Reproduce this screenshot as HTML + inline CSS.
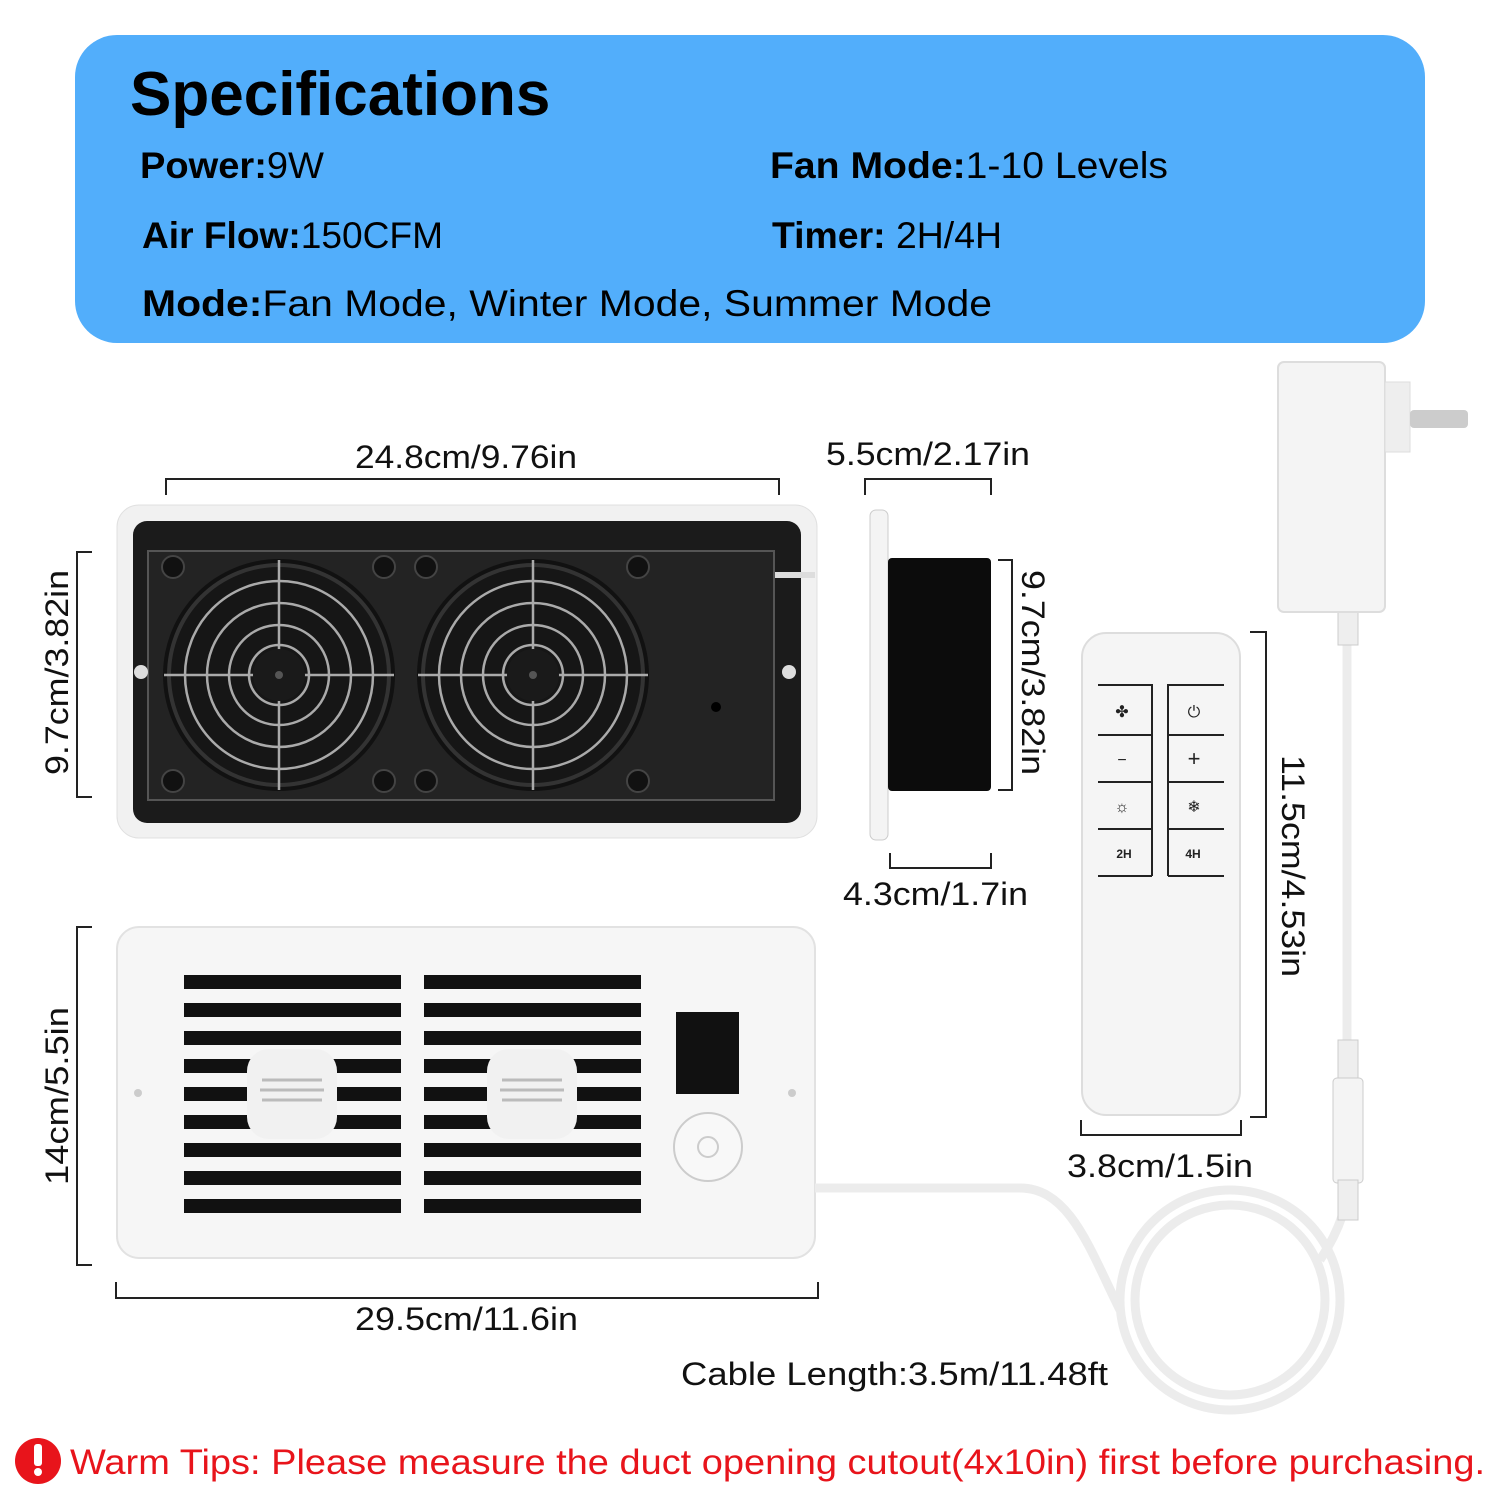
<!DOCTYPE html>
<html><head><meta charset="utf-8"><style>
html,body{margin:0;padding:0;background:#fff;}
svg{display:block;}
text{font-family:"Liberation Sans",sans-serif;}
</style></head><body>
<svg width="1500" height="1500" viewBox="0 0 1500 1500" xmlns="http://www.w3.org/2000/svg">
<rect x="75" y="35" width="1350" height="308" rx="42" fill="#52aefb"/>
<text x="130" y="115" font-size="62" font-weight="bold" fill="#000">Specifications</text>
<g font-size="37" fill="#000">
<text x="140" y="178" textLength="184" lengthAdjust="spacingAndGlyphs"><tspan font-weight="bold">Power:</tspan>9W</text>
<text x="770" y="178" textLength="398" lengthAdjust="spacingAndGlyphs"><tspan font-weight="bold">Fan Mode:</tspan>1-10 Levels</text>
<text x="142" y="248" textLength="301" lengthAdjust="spacingAndGlyphs"><tspan font-weight="bold">Air Flow:</tspan>150CFM</text>
<text x="772" y="248" textLength="230" lengthAdjust="spacingAndGlyphs"><tspan font-weight="bold">Timer:</tspan> 2H/4H</text>
<text x="142" y="316" textLength="850" lengthAdjust="spacingAndGlyphs"><tspan font-weight="bold">Mode:</tspan>Fan Mode, Winter Mode, Summer Mode</text>
</g>

<g stroke="#222" stroke-width="2" fill="none">
<path d="M166 495 V479 H779 V495"/>
<path d="M92 552 H77 V797 H92"/>
<path d="M865 495 V479 H991 V495"/>
<path d="M998 560 H1012 V790 H998"/>
<path d="M890 853 V868 H991 V853"/>
<path d="M1250 632 H1266 V1117 H1250"/>
<path d="M1081 1120 V1135 H1241 V1120"/>
<path d="M92 927 H77 V1265 H92"/>
<path d="M116 1282 V1298 H818 V1282"/>
</g>
<g font-size="32" fill="#111" lengthAdjust="spacingAndGlyphs">
<text x="355" y="468" textLength="222" lengthAdjust="spacingAndGlyphs">24.8cm/9.76in</text>
<text x="826" y="465" textLength="204" lengthAdjust="spacingAndGlyphs">5.5cm/2.17in</text>
<text x="843" y="905" textLength="185" lengthAdjust="spacingAndGlyphs">4.3cm/1.7in</text>
<text x="1067" y="1177" textLength="186" lengthAdjust="spacingAndGlyphs">3.8cm/1.5in</text>
<text x="355" y="1330" textLength="223" lengthAdjust="spacingAndGlyphs">29.5cm/11.6in</text>
<text x="681" y="1385" textLength="427" lengthAdjust="spacingAndGlyphs">Cable Length:3.5m/11.48ft</text>
<text transform="translate(68,775) rotate(-90)" textLength="205" lengthAdjust="spacingAndGlyphs">9.7cm/3.82in</text>
<text transform="translate(68,1185) rotate(-90)" textLength="178" lengthAdjust="spacingAndGlyphs">14cm/5.5in</text>
<text transform="translate(1022,570) rotate(90)" textLength="205" lengthAdjust="spacingAndGlyphs">9.7cm/3.82in</text>
<text transform="translate(1282,755) rotate(90)" textLength="222" lengthAdjust="spacingAndGlyphs">11.5cm/4.53in</text>
</g>

<rect x="117" y="505" width="700" height="333" rx="22" fill="#f1f1f1" stroke="#e0e0e0"/>
<rect x="133" y="521" width="668" height="302" rx="14" fill="#1b1b1b"/>
<rect x="148" y="551" width="626" height="249" fill="#232323" stroke="#555" stroke-width="2"/>
<path d="M775 575 H815" stroke="#ddd" stroke-width="6"/>
<circle cx="141" cy="672" r="7" fill="#ddd"/><circle cx="789" cy="672" r="7" fill="#ddd"/>
<circle cx="716" cy="707" r="5" fill="#000"/>
<g fill="#111" stroke="#444" stroke-width="2">
<circle cx="173" cy="567" r="11"/><circle cx="384" cy="567" r="11"/><circle cx="426" cy="567" r="11"/><circle cx="638" cy="567" r="11"/>
<circle cx="173" cy="781" r="11"/><circle cx="384" cy="781" r="11"/><circle cx="426" cy="781" r="11"/><circle cx="638" cy="781" r="11"/>
</g>
<g id="fan">
<circle cx="279" cy="675" r="116" fill="#111"/>
<circle cx="279" cy="675" r="110" fill="#161616" stroke="#333" stroke-width="4"/>
<g fill="none" stroke="#aaa" stroke-width="2.5">
<circle cx="279" cy="675" r="94"/><circle cx="279" cy="675" r="72"/><circle cx="279" cy="675" r="50"/><circle cx="279" cy="675" r="30"/>
<path d="M279 560 V790 M164 675 H394"/>
</g>
<circle cx="279" cy="675" r="26" fill="#1a1a1a"/>
<circle cx="279" cy="675" r="4" fill="#555"/>
</g>
<use href="#fan" x="254"/>

<rect x="870" y="510" width="18" height="330" rx="6" fill="#f4f4f4" stroke="#ccc"/>
<rect x="888" y="558" width="103" height="233" rx="4" fill="#0c0c0c"/>

<rect x="117" y="927" width="698" height="331" rx="22" fill="#f6f6f6" stroke="#e2e2e2" stroke-width="2"/>
<g fill="#111">
<rect x="184" y="975" width="217" height="14"/><rect x="184" y="1003" width="217" height="14"/><rect x="184" y="1031" width="217" height="14"/><rect x="184" y="1059" width="217" height="14"/><rect x="184" y="1087" width="217" height="14"/><rect x="184" y="1115" width="217" height="14"/><rect x="184" y="1143" width="217" height="14"/><rect x="184" y="1171" width="217" height="14"/><rect x="184" y="1199" width="217" height="14"/>
<rect x="424" y="975" width="217" height="14"/><rect x="424" y="1003" width="217" height="14"/><rect x="424" y="1031" width="217" height="14"/><rect x="424" y="1059" width="217" height="14"/><rect x="424" y="1087" width="217" height="14"/><rect x="424" y="1115" width="217" height="14"/><rect x="424" y="1143" width="217" height="14"/><rect x="424" y="1171" width="217" height="14"/><rect x="424" y="1199" width="217" height="14"/>
<rect x="676" y="1012" width="63" height="82"/>
</g>
<rect x="247" y="1049" width="90" height="90" rx="22" fill="#f1f1f1"/>
<rect x="487" y="1049" width="90" height="90" rx="22" fill="#f1f1f1"/>
<g stroke="#bbb" stroke-width="3"><path d="M262 1080 H322 M260 1090 H324 M262 1100 H322 M502 1080 H562 M500 1090 H564 M502 1100 H562"/></g>
<circle cx="708" cy="1147" r="34" fill="#f8f8f8" stroke="#ccc" stroke-width="2"/>
<circle cx="708" cy="1147" r="10" fill="none" stroke="#ccc" stroke-width="2"/>
<circle cx="138" cy="1093" r="4" fill="#ccc"/><circle cx="792" cy="1093" r="4" fill="#ccc"/>

<g fill="none" stroke="#ececec" stroke-width="9">
<path d="M815 1188 H1020 C1070 1188 1090 1250 1120 1310"/>
<circle cx="1230" cy="1300" r="95"/>
<circle cx="1230" cy="1300" r="110"/>
<path d="M1320 1260 C1340 1230 1350 1200 1350 1170"/>
<path d="M1347 1060 V640"/>
</g>
<rect x="1338" y="1040" width="20" height="40" fill="#eee" stroke="#ccc"/>
<rect x="1333" y="1078" width="30" height="105" rx="4" fill="#f4f4f4" stroke="#ccc"/>
<rect x="1338" y="1180" width="20" height="40" fill="#eee" stroke="#ccc"/>
<rect x="1338" y="610" width="20" height="35" fill="#eee" stroke="#ccc"/>

<rect x="1278" y="362" width="107" height="250" rx="6" fill="#f4f4f4" stroke="#ddd" stroke-width="2"/>
<rect x="1385" y="382" width="25" height="70" fill="#eee" stroke="#ddd"/>
<rect x="1410" y="410" width="58" height="18" rx="4" fill="#ccc"/>

<rect x="1082" y="633" width="158" height="482" rx="24" fill="#f5f5f5" stroke="#ddd" stroke-width="2"/>
<g stroke="#222" stroke-width="2" fill="none">
<path d="M1098 685 H1152 V735 M1098 735 H1152 V782 M1098 782 H1152 V829 M1098 829 H1152 V876 M1098 876 H1152"/>
<path d="M1168 735 V685 H1224 M1168 782 V735 H1224 M1168 829 V782 H1224 M1168 876 V829 H1224 M1168 876 H1224"/>
</g>
<g font-size="16" text-anchor="middle" fill="#222">
<text x="1122" y="717">✤</text><text x="1194" y="717">⏻</text>
<text x="1122" y="765">−</text><text x="1194" y="766" font-size="22">+</text>
<text x="1122" y="812">☼</text><text x="1194" y="812">❄</text>
<text x="1124" y="858" font-size="12" font-weight="bold">2H</text><text x="1193" y="858" font-size="12" font-weight="bold">4H</text>
</g>

<circle cx="38" cy="1461" r="23" fill="#e8141b"/>
<rect x="34" y="1444" width="8" height="22" rx="3" fill="#fff"/><circle cx="38" cy="1472" r="4" fill="#fff"/>
<text x="70" y="1474" font-size="35" fill="#e8141b" textLength="1415" lengthAdjust="spacingAndGlyphs">Warm Tips: Please measure the duct opening cutout(4x10in) first before purchasing.</text>
</svg>
</body></html>
